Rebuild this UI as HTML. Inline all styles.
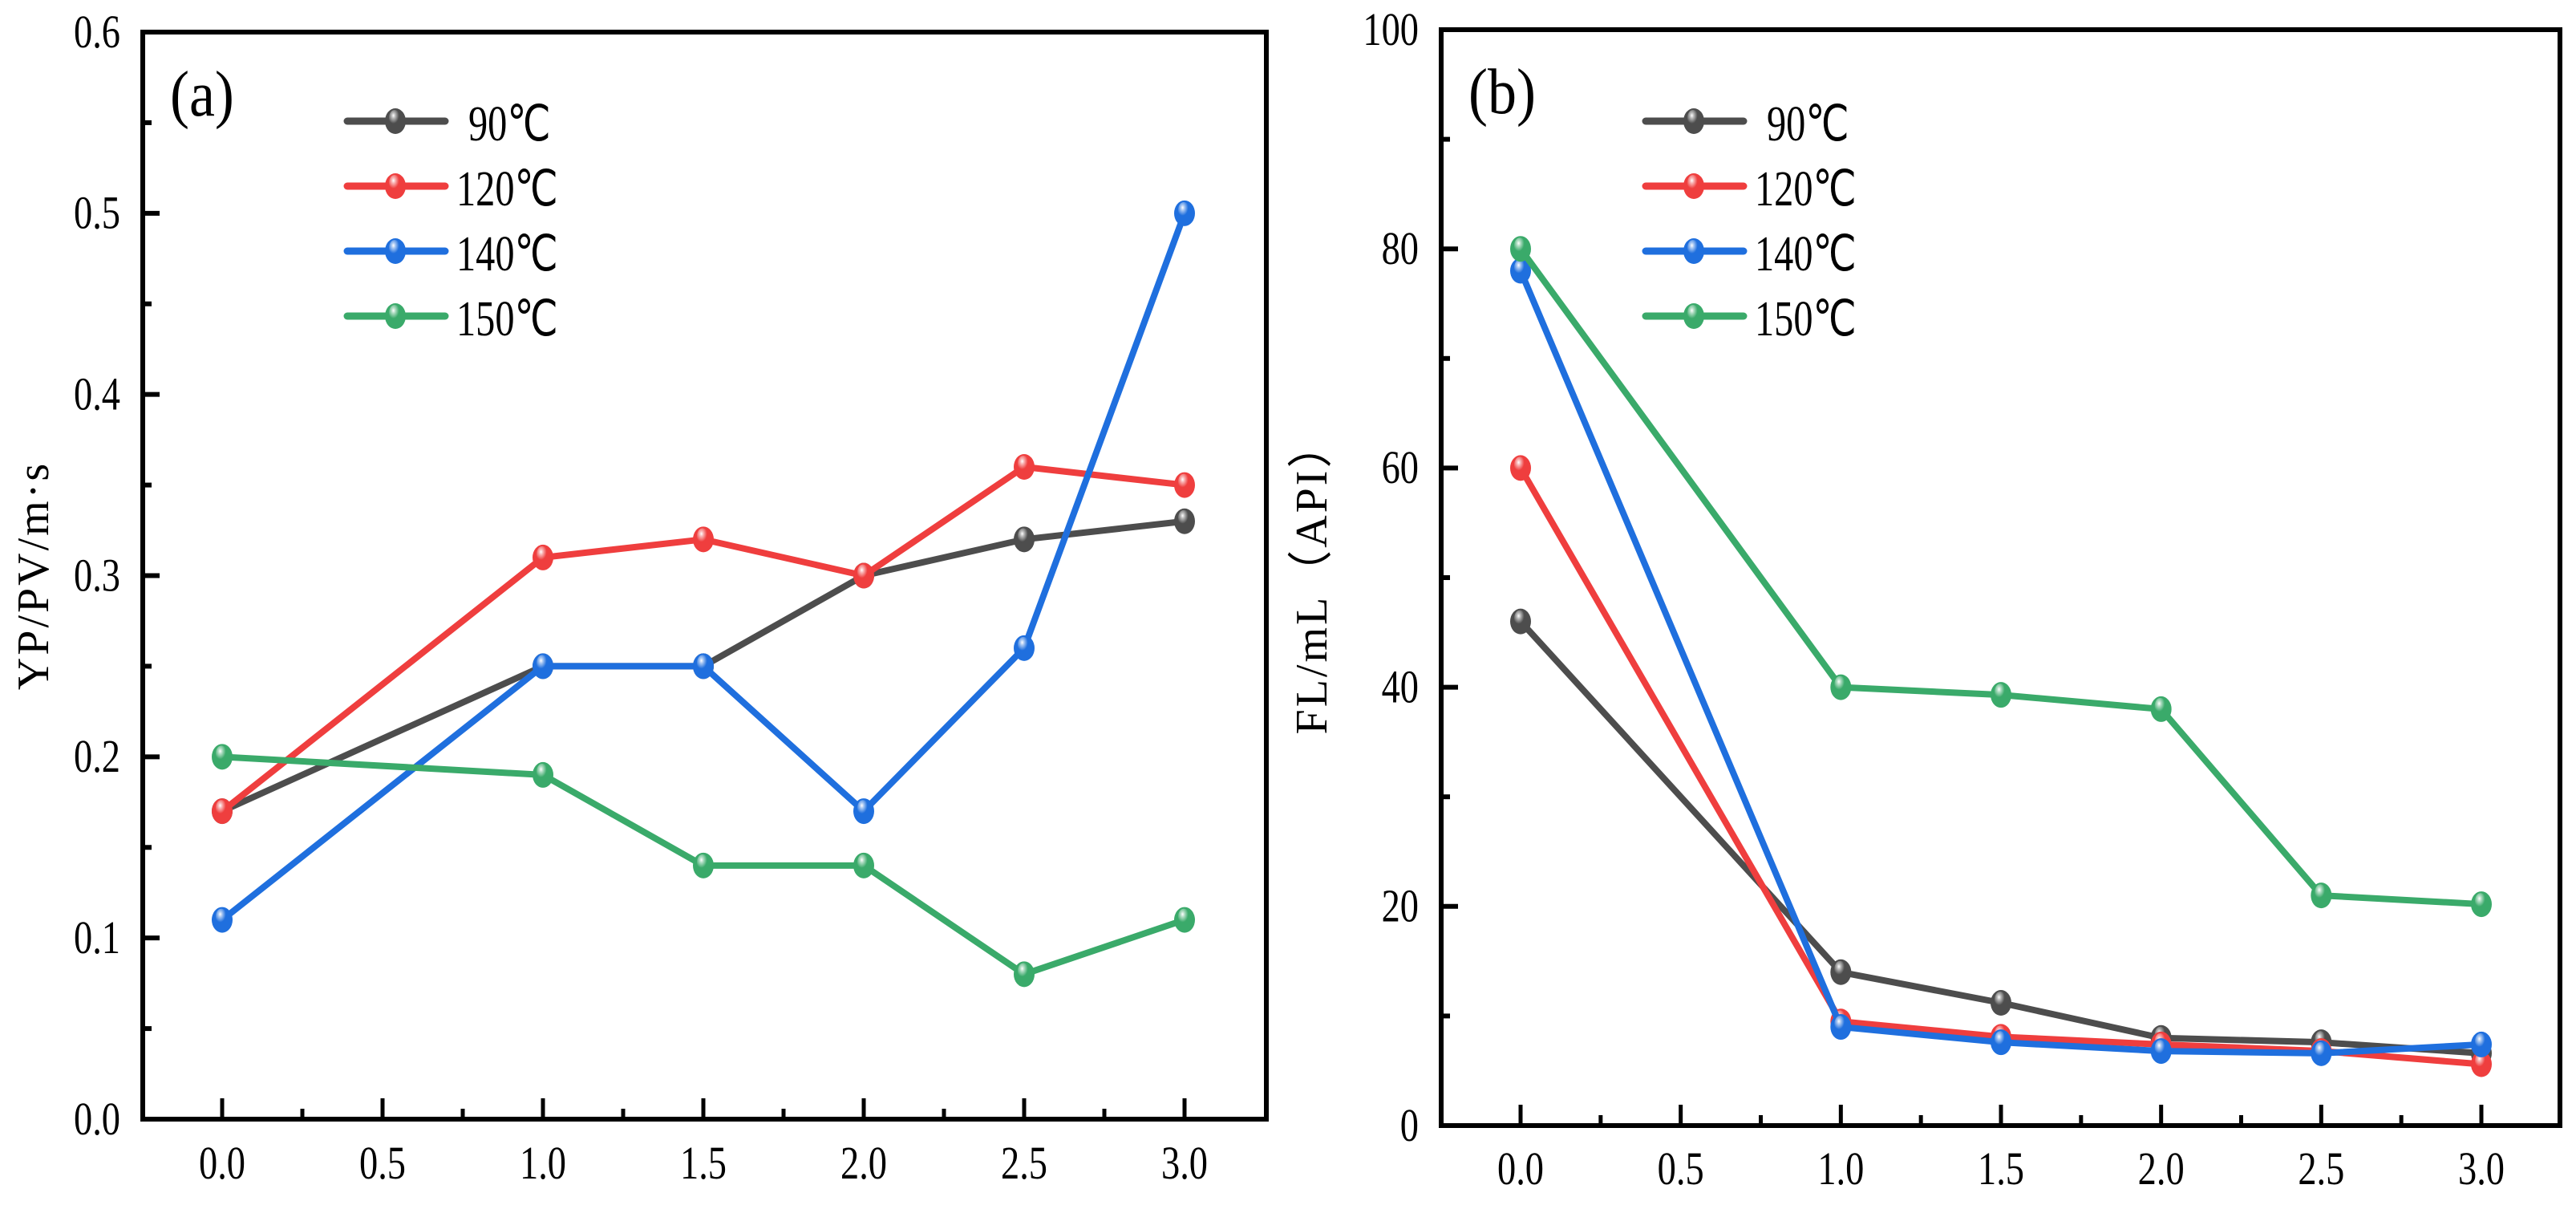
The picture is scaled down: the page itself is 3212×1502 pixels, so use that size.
<!DOCTYPE html>
<html><head><meta charset="utf-8"><style>
html,body{margin:0;padding:0;background:#fff;}
svg text{font-family:"Liberation Serif",serif;fill:#000;}
</style></head><body>
<svg id="chart" width="3212" height="1497" viewBox="0 0 3212 1497" xmlns="http://www.w3.org/2000/svg">
<defs>
<radialGradient id="hl" cx="0.4" cy="0.35" r="0.5"><stop offset="0" stop-color="#fff" stop-opacity="1"/><stop offset="0.35" stop-color="#fff" stop-opacity="0.6"/><stop offset="1" stop-color="#fff" stop-opacity="0"/></radialGradient>
</defs>
<g id="root"></g>
</svg>
<script>
const xValues=[0,1,1.5,2,2.5,3];
const xTicks=[0,0.5,1,1.5,2,2.5,3];
const xTickLabels=["0.0","0.5","1.0","1.5","2.0","2.5","3.0"];
const seriesNames=["90℃","120℃","140℃","150℃"];
const seriesColors=["#4d4d4d","#ef3e3e","#1f6fde","#3aaa6a"];
const aValues90=[0.17,0.25,0.25,0.30,0.32,0.33];
const aValues120=[0.17,0.31,0.32,0.30,0.36,0.35];
const aValues140=[0.11,0.25,0.25,0.17,0.26,0.50];
const aValues150=[0.20,0.19,0.14,0.14,0.08,0.11];
const aYTicks=[0,0.1,0.2,0.3,0.4,0.5,0.6];
const aYTickLabels=["0.0","0.1","0.2","0.3","0.4","0.5","0.6"];
const bValues90=[46,14,11.2,8,7.6,6.6];
const bValues120=[60,9.5,8.1,7.4,6.8,5.6];
const bValues140=[78,9,7.6,6.8,6.6,7.4];
const bValues150=[80,40,39.3,38,21,20.2];
const bYTicks=[0,20,40,60,80,100];
const bYTickLabels=["0","20","40","60","80","100"];

const NS="http://www.w3.org/2000/svg";
const root=document.getElementById('root');
function mk(tag,attrs,parent){const e=document.createElementNS(NS,tag);for(const k in attrs)e.setAttribute(k,attrs[k]);(parent||root).appendChild(e);return e;}
function txt(parent,x,y,size,anchor,sx,content,baseline){
  const t=mk('text',{x:0,y:0,'font-size':size,'text-anchor':anchor,'dominant-baseline':baseline||'central',transform:`translate(${x},${y}) scale(${sx},1)`},parent);
  t.textContent=content;return t;
}

function panel(cfg){
  const g=mk('g',{});
  
  
  const L=cfg.left,R=cfg.right,T=cfg.top,B=cfg.bottom;
  const xs=v=>cfg.x0+v*(cfg.x3-cfg.x0)/3;
  const ys=v=>B-(v-cfg.ymin)/(cfg.ymax-cfg.ymin)*(B-T);
  const fr=mk('rect',{x:L,y:T,width:R-L,height:B-T,fill:'none',stroke:'#000','stroke-width':cfg.frameW},g);
  
  
  xTicks.forEach((t,i)=>{
    const x=xs(t);
    const tk=mk('line',{x1:x,x2:x,y1:B,y2:B-26,stroke:'#000','stroke-width':5},g);
    
    
    if(i<xTicks.length-1){const mx=xs(t+0.25);const m=mk('line',{x1:mx,x2:mx,y1:B,y2:B-13,stroke:'#000','stroke-width':5},g);
      
      }
    const lb=txt(g,x,cfg.xLabelY,58,'middle',0.8,xTickLabels[i]);
    
    
  });
  cfg.yTicks.forEach((t,i)=>{
    const y=ys(t);
    const tk=mk('line',{x1:L,x2:L+21,y1:y,y2:y,stroke:'#000','stroke-width':6},g);
    
    
    if(i<cfg.yTicks.length-1){const my=ys((t+cfg.yTicks[i+1])/2);const m=mk('line',{x1:L,x2:L+11,y1:my,y2:my,stroke:'#000','stroke-width':6},g);
      
      }
    const lb=txt(g,L-28,y,58,'end',0.8,cfg.yTickLabels[i]);
    
    
  });
  const yt=mk('text',{x:0,y:0,'font-size':56,'text-anchor':'middle','dominant-baseline':'central','letter-spacing':3,transform:`translate(${cfg.yTitleX},${(T+B)/2}) rotate(-90)`},g);
  yt.textContent=cfg.yTitle;
  
  
  const pl=txt(g,L+34,T+104,80,'start',0.9,cfg.label,'auto');
  
  
  cfg.series.forEach((vals,si)=>{
    const sg=mk('g',{},g);
    
    
    const pts=vals.map((v,i)=>xs(xValues[i])+','+ys(v)).join(' ');
    const pl2=mk('polyline',{points:pts,fill:'none',stroke:seriesColors[si],'stroke-width':8,'stroke-linejoin':'round'},sg);
    
    
    vals.forEach((v,i)=>{
      const cx=xs(xValues[i]),cy=ys(v);
      const m=mk('ellipse',{cx:cx,cy:cy,rx:13,ry:16,fill:seriesColors[si]},sg);
      
      
      mk('ellipse',{cx:cx-1,cy:cy-4,rx:7,ry:10,fill:'url(#hl)'},sg);
    });
  });
  const rows=[151,232,313,394];
  seriesNames.forEach((n,si)=>{
    const lg=mk('g',{},g);
    
    
    const lx=L+255;
    mk('line',{x1:lx,x2:lx+122,y1:rows[si],y2:rows[si],stroke:seriesColors[si],'stroke-width':9,'stroke-linecap':'round'},lg);
    mk('ellipse',{cx:lx+60,cy:rows[si],rx:13,ry:16,fill:seriesColors[si]},lg);
    mk('ellipse',{cx:lx+59,cy:rows[si]-4,rx:7,ry:10,fill:'url(#hl)'},lg);
    txt(lg,lx+(si==0?151:136),rows[si]+4,62,'start',0.78,n);
  });
}
panel({name:'panel-a',left:178,right:1579,top:40,bottom:1395,frameW:6,x0:277,x3:1477,ymin:0,ymax:0.6,
  yTicks:aYTicks,yTickLabels:aYTickLabels,xLabelY:1450,yTitle:'YP/PV/m·s',yTitleX:42,label:'(a)',
  series:[aValues90,aValues120,aValues140,aValues150]});
panel({name:'panel-b',left:1797,right:3192,top:37,bottom:1403,frameW:6,x0:1896,x3:3094,ymin:0,ymax:100,
  yTicks:bYTicks,yTickLabels:bYTickLabels,xLabelY:1457,yTitle:'FL/mL（API）',yTitleX:1636,label:'(b)',
  series:[bValues90,bValues120,bValues140,bValues150]});
</script>
</body></html>
